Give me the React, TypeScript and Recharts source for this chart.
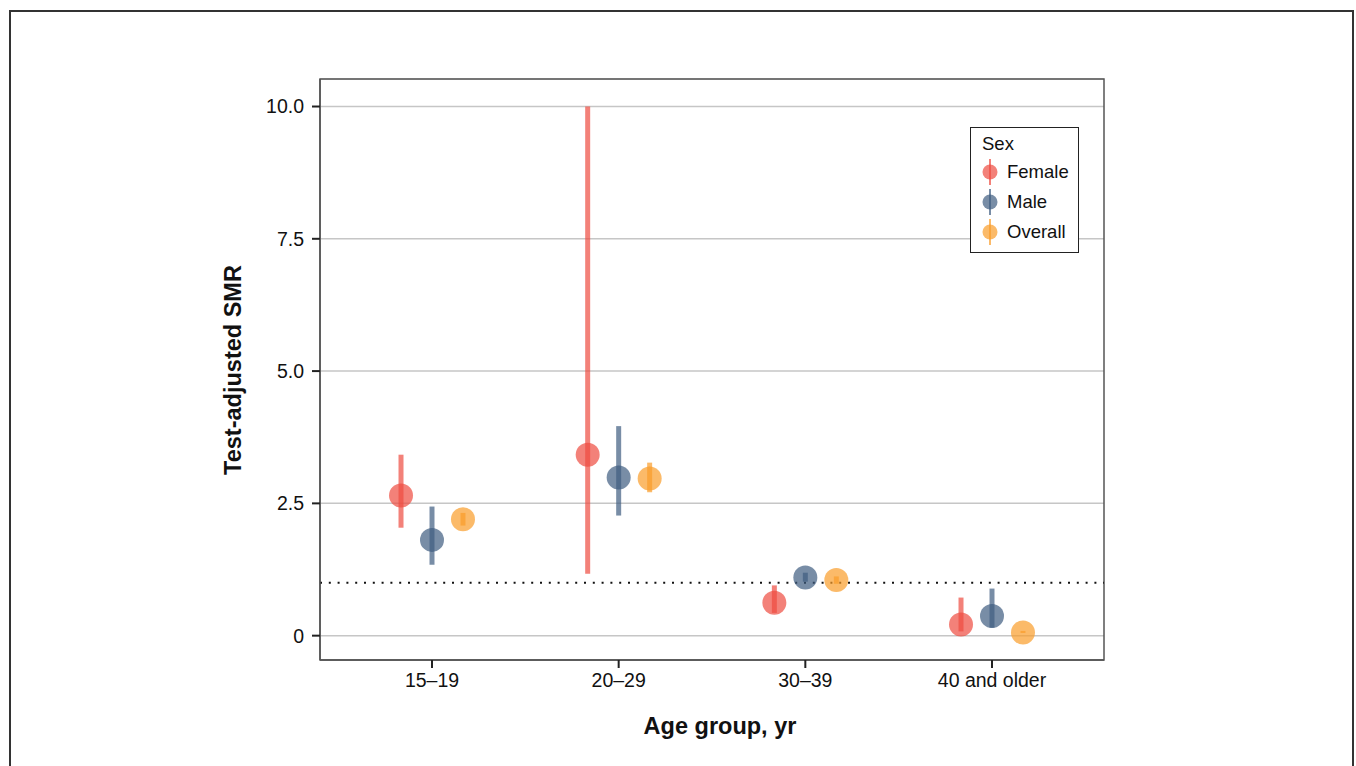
import React from 'react';
import { ComposedChart, Scatter, ErrorBar, XAxis, YAxis, CartesianGrid, ReferenceLine, ReferenceArea } from 'recharts';

const CATEGORIES = ['15–19', '20–29', '30–39', '40 and older'];
const Y_TICKS = [0, 2.5, 5, 7.5, 10];

// point estimates and 95% CI per age group
const FEMALE = [2.65, 3.42, 0.62, 0.21];
const FEMALE_LOW = [2.04, 1.17, 0.43, 0.08];
const FEMALE_HIGH = [3.42, 10.0, 0.95, 0.72];

const MALE = [1.81, 2.99, 1.1, 0.37];
const MALE_LOW = [1.34, 2.27, 1.02, 0.15];
const MALE_HIGH = [2.44, 3.96, 1.19, 0.89];

const OVERALL = [2.2, 2.97, 1.05, 0.06];
const OVERALL_LOW = [2.08, 2.71, 0.98, 0.05];
const OVERALL_HIGH = [2.32, 3.27, 1.12, 0.09];

const FONT = '"Liberation Sans", Arial, sans-serif';
const DODGE = 0.166;
const X_DOMAIN: [number, number] = [0.4, 4.6];
const Y_DOMAIN: [number, number] = [-0.46, 10.52];

const SERIES = [
  { name: 'Female', vals: FEMALE, low: FEMALE_LOW, high: FEMALE_HIGH, color: '#ee4b40', shift: -DODGE },
  { name: 'Male', vals: MALE, low: MALE_LOW, high: MALE_HIGH, color: '#3f5d80', shift: 0 },
  { name: 'Overall', vals: OVERALL, low: OVERALL_LOW, high: OVERALL_HIGH, color: '#f99d2a', shift: DODGE },
];

const buildRows = (s: typeof SERIES[number]) =>
  s.vals.map((v, i) => ({ x: i + 1 + s.shift, y: v, err: [v - s.low[i], s.high[i] - v] }));

const fmtY = (v: number) => (v === 0 ? '0' : v.toFixed(1));

const App: React.FC = () => {
  return (
    <div style={{ position: 'absolute', left: 0, top: 0, width: 1356, height: 766, background: '#fff', fontFamily: FONT, overflow: 'hidden' }}>
      <div style={{ position: 'absolute', left: 9, top: 10, width: 1341, height: 800, border: '2px solid #333' }} />
      <ComposedChart
        width={1356}
        height={766}
        margin={{ top: 79, right: 252, bottom: 66, left: 240 }}
        style={{ position: 'absolute', left: 0, top: 0 }}
      >
        <CartesianGrid vertical={false} stroke="#c6c6c6" strokeWidth={1.5} />
        <XAxis
          dataKey="x"
          type="number"
          domain={X_DOMAIN}
          ticks={[1, 2, 3, 4]}
          tickFormatter={(v: number) => CATEGORIES[v - 1]}
          height={40}
          axisLine={{ stroke: '#555', strokeWidth: 1.5 }}
          tickLine={{ stroke: '#222', strokeWidth: 2 }}
          tickSize={8}
          tickMargin={5}
          tick={{ fill: '#111', fontSize: 19.5, fontFamily: FONT }}
          allowDataOverflow
        />
        <YAxis
          dataKey="y"
          type="number"
          domain={Y_DOMAIN}
          ticks={Y_TICKS}
          tickFormatter={fmtY}
          width={80}
          axisLine={{ stroke: '#555', strokeWidth: 1.5 }}
          tickLine={{ stroke: '#222', strokeWidth: 2 }}
          tickSize={8}
          tickMargin={8}
          tick={{ fill: '#111', fontSize: 19.5, fontFamily: FONT }}
          allowDataOverflow
        />
        <ReferenceArea x1={X_DOMAIN[0]} x2={X_DOMAIN[1]} y1={Y_DOMAIN[0]} y2={Y_DOMAIN[1]} fill="none" fillOpacity={0} stroke="#555" strokeWidth={1.5} ifOverflow="visible" />
        <ReferenceLine y={1} stroke="#111" strokeWidth={2.2} strokeDasharray="2 6.8" />
        {SERIES.map((s) => (
          <Scatter
            key={s.name}
            name={s.name}
            data={buildRows(s)}
            dataKey="y"
            isAnimationActive={false}
            shape={(p: any) => <circle cx={p.cx} cy={p.cy} r={12} fill={s.color} fillOpacity={0.7} />}
          >
            <ErrorBar dataKey="err" direction="y" width={0} stroke={s.color} strokeOpacity={0.7} strokeWidth={5} isAnimationActive={false} />
          </Scatter>
        ))}
      </ComposedChart>

      <div style={{ position: 'absolute', left: 233, top: 370, transform: 'translate(-50%, -50%) rotate(-90deg)', fontWeight: 'bold', fontSize: 23.5, color: '#111', whiteSpace: 'nowrap' }}>
        Test-adjusted SMR
      </div>
      <div style={{ position: 'absolute', left: 720, top: 726, transform: 'translate(-50%, -50%)', fontWeight: 'bold', fontSize: 23.5, color: '#111', whiteSpace: 'nowrap' }}>
        Age group, yr
      </div>

      <div style={{ position: 'absolute', left: 970, top: 127, width: 107, height: 124, border: '1px solid #222', background: '#fff', fontSize: 18.5, color: '#111' }}>
        <div style={{ position: 'absolute', left: 11, top: 5 }}>Sex</div>
        {SERIES.map((s, i) => (
          <div key={s.name} style={{ position: 'absolute', left: 0, top: 31 + i * 30, height: 26, width: 107 }}>
            <svg width={30} height={26} style={{ position: 'absolute', left: 4, top: 0 }}>
              <line x1={15} x2={15} y1={0} y2={26} stroke={s.color} strokeOpacity={0.7} strokeWidth={2} />
              <circle cx={15} cy={13} r={7.5} fill={s.color} fillOpacity={0.7} />
            </svg>
            <div style={{ position: 'absolute', left: 36, top: 2 }}>{s.name}</div>
          </div>
        ))}
      </div>
    </div>
  );
};

export default App;
